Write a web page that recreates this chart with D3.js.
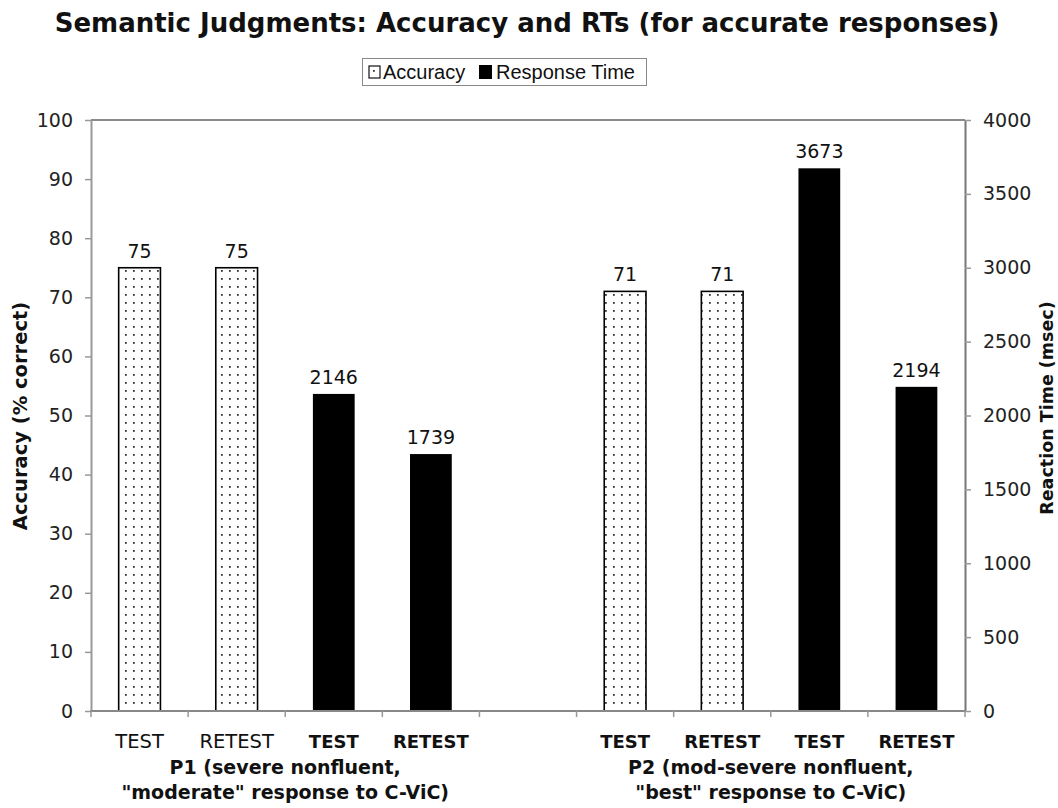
<!DOCTYPE html>
<html>
<head>
<meta charset="utf-8">
<script src="https://cdn.jsdelivr.net/npm/d3@7"></script>
<style>
  body { margin: 0; background: #fff; }
  text { font-family: "DejaVu Sans", Verdana, sans-serif; fill: #111; }
</style>
</head>
<body>
<script>
// data
var groups = ["P1", "P2"];
var phases = ["TEST", "RETEST"];
var accuracy = [75, 75, 71, 71];          // P1 test, P1 retest, P2 test, P2 retest
var responseTime = [2146, 1739, 3673, 2194];
var groupLabels = [
  ["P1 (severe nonfluent,", "\"moderate\" response to C-ViC)"],
  ["P2 (mod-severe nonfluent,", "\"best\" response to C-ViC)"]
];
var accTicks = d3.range(0, 101, 10);
var rtTicks = d3.range(0, 4001, 500);

var svg_width = 1058;
var svg_height = 808;
var plot_left = 91, plot_right = 965, plot_top = 120, plot_bottom = 711;

// build slots: per group acc test, acc retest, rt test, rt retest; a gap between groups
var slots = [];
groups.forEach(function(g, gi) {
  phases.forEach(function(p, pi) {
    slots.push({key: g + "-acc-" + p, group: gi, series: "acc", phase: p, value: accuracy[gi * 2 + pi]});
  });
  phases.forEach(function(p, pi) {
    slots.push({key: g + "-rt-" + p, group: gi, series: "rt", phase: p, value: responseTime[gi * 2 + pi]});
  });
  if (gi < groups.length - 1) slots.push({key: "gap" + gi, gap: true});
});

var x = d3.scaleBand()
  .domain(slots.map(function(d) { return d.key; }))
  .range([plot_left, plot_right])
  .padding(0);

var yAcc = d3.scaleLinear().domain([0, 100]).range([plot_bottom, plot_top]);
var yRt = d3.scaleLinear().domain([0, 4000]).range([plot_bottom, plot_top]);

var svg = d3.select("body").append("svg")
  .attr("width", svg_width)
  .attr("height", svg_height);

// dotted fill
var defs = svg.append("defs");
var pat = defs.append("pattern")
  .attr("id", "dots")
  .attr("patternUnits", "userSpaceOnUse")
  .attr("x", 2).attr("y", 3)
  .attr("width", 8).attr("height", 8);
pat.append("rect").attr("width", 8).attr("height", 8).attr("fill", "#fff");
pat.append("rect").attr("x", 3).attr("y", 3).attr("width", 1.8).attr("height", 1.8).attr("fill", "#333");

// title
svg.append("text")
  .attr("x", 527)
  .attr("y", 32)
  .attr("text-anchor", "middle")
  .style("font-size", "26px")
  .style("font-weight", "bold")
  .text("Semantic Judgments: Accuracy and RTs (for accurate responses)");

// legend
var legend = svg.append("g");
legend.append("rect")
  .attr("x", 362.5).attr("y", 58.5)
  .attr("width", 284).attr("height", 27)
  .attr("fill", "#fff")
  .attr("stroke", "#888");
legend.append("rect")
  .attr("x", 369).attr("y", 66).attr("width", 11).attr("height", 12)
  .attr("fill", "url(#dots)").attr("stroke", "#111").attr("stroke-width", 1.2);
legend.append("text")
  .attr("x", 383).attr("y", 79)
  .style("font-family", "'Liberation Sans', Arial, sans-serif")
  .style("font-size", "20px")
  .text("Accuracy");
legend.append("rect")
  .attr("x", 479).attr("y", 65).attr("width", 13).attr("height", 14)
  .attr("fill", "#000");
legend.append("text")
  .attr("x", 496).attr("y", 79)
  .style("font-family", "'Liberation Sans', Arial, sans-serif")
  .style("font-size", "20px")
  .text("Response Time");

// top frame line
svg.append("line")
  .attr("x1", plot_left).attr("x2", plot_right)
  .attr("y1", plot_top).attr("y2", plot_top)
  .attr("stroke", "#8a8a8a").attr("stroke-width", 2);

// bars
var barW = x.bandwidth() * 0.43;
var bars = slots.filter(function(d) { return !d.gap; });

svg.selectAll(".bar")
  .data(bars)
  .enter().append("rect")
  .attr("class", "bar")
  .attr("x", function(d) { return x(d.key) + (x.bandwidth() - barW) / 2; })
  .attr("y", function(d) { return d.series === "acc" ? yAcc(d.value) : yRt(d.value); })
  .attr("width", barW)
  .attr("height", function(d) { return plot_bottom - (d.series === "acc" ? yAcc(d.value) : yRt(d.value)); })
  .attr("fill", function(d) { return d.series === "acc" ? "url(#dots)" : "#000"; })
  .attr("stroke", "#000")
  .attr("stroke-width", function(d) { return d.series === "acc" ? 1.6 : 0; });

// value labels
svg.selectAll(".val")
  .data(bars)
  .enter().append("text")
  .attr("class", "val")
  .attr("x", function(d) { return x(d.key) + x.bandwidth() / 2; })
  .attr("y", function(d) { return (d.series === "acc" ? yAcc(d.value) : yRt(d.value)) - 10; })
  .attr("text-anchor", "middle")
  .style("font-size", "19px")
  .text(function(d) { return d.value; });

// left axis
var leftAxis = svg.append("g")
  .attr("transform", "translate(" + plot_left + ",0)")
  .call(d3.axisLeft(yAcc).tickValues(accTicks).tickSize(6).tickPadding(12).tickSizeOuter(0));
leftAxis.select(".domain").attr("stroke", "#999").attr("stroke-width", 2);
leftAxis.selectAll(".tick line").attr("stroke", "#999").attr("stroke-width", 1.5);
leftAxis.selectAll(".tick text").style("font-size", "19px").style("fill", "#222");

// right axis
var rightAxis = svg.append("g")
  .attr("transform", "translate(" + plot_right + ",0)")
  .call(d3.axisRight(yRt).tickValues(rtTicks).tickFormat(d3.format("d")).tickSize(6).tickPadding(12).tickSizeOuter(0));
rightAxis.select(".domain").attr("stroke", "#777").attr("stroke-width", 2);
rightAxis.selectAll(".tick line").attr("stroke", "#999").attr("stroke-width", 1.5);
rightAxis.selectAll(".tick text").style("font-size", "19px").style("fill", "#222");

// bottom axis with ticks at slot boundaries
var bottom = svg.append("g");
bottom.append("line")
  .attr("x1", plot_left - 1).attr("x2", plot_right + 1)
  .attr("y1", plot_bottom).attr("y2", plot_bottom)
  .attr("stroke", "#888").attr("stroke-width", 2);
bottom.selectAll(".btick")
  .data(slots.map(function(d) { return x(d.key); }).concat([plot_right]))
  .enter().append("line")
  .attr("x1", function(d) { return d; }).attr("x2", function(d) { return d; })
  .attr("y1", plot_bottom).attr("y2", plot_bottom + 6)
  .attr("stroke", "#999").attr("stroke-width", 1.5);

// category labels (P1 accuracy labels are plain, the rest bold)
svg.selectAll(".cat")
  .data(bars)
  .enter().append("text")
  .attr("class", "cat")
  .attr("x", function(d) { return x(d.key) + x.bandwidth() / 2; })
  .attr("y", 748)
  .attr("text-anchor", "middle")
  .style("font-size", function(d) { return (d.group === 0 && d.series === "acc") ? "19.5px" : "18px"; })
  .style("font-weight", function(d) { return (d.group === 0 && d.series === "acc") ? "normal" : "bold"; })
  .text(function(d) { return d.phase; });

// group labels
groups.forEach(function(g, gi) {
  var first = x(g + "-acc-TEST");
  var last = x(g + "-rt-RETEST") + x.bandwidth();
  var t = svg.append("text")
    .attr("text-anchor", "middle")
    .style("font-size", "19px")
    .style("font-weight", "bold");
  groupLabels[gi].forEach(function(line, li) {
    t.append("tspan")
      .attr("x", (first + last) / 2)
      .attr("y", 774 + li * 25)
      .text(line);
  });
});

// axis titles
svg.append("text")
  .attr("transform", "translate(27,416) rotate(-90)")
  .attr("text-anchor", "middle")
  .style("font-size", "19.5px")
  .style("font-weight", "bold")
  .text("Accuracy (% correct)");

svg.append("text")
  .attr("transform", "translate(1053,408) rotate(-90)")
  .attr("text-anchor", "middle")
  .style("font-size", "17.5px")
  .style("font-weight", "bold")
  .text("Reaction Time (msec)");
</script>
</body>
</html>
